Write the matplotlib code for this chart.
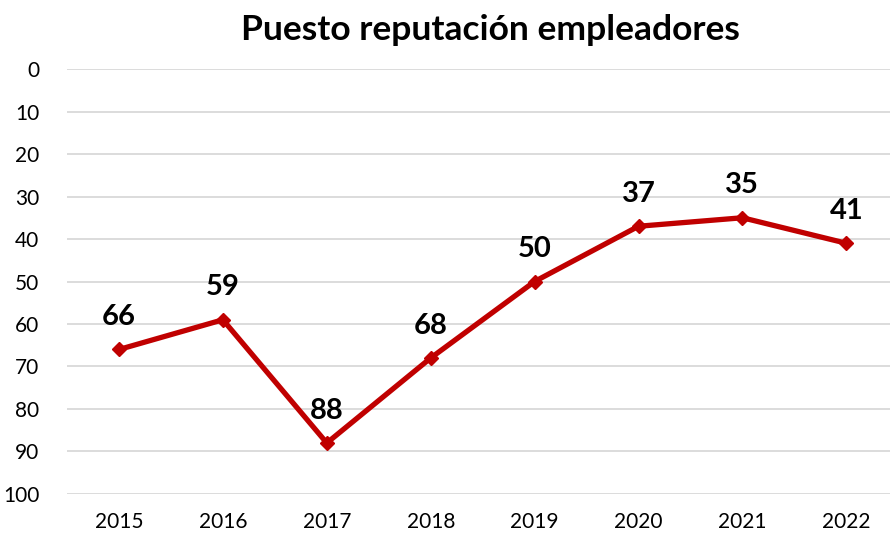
import matplotlib
matplotlib.use("Agg")
import matplotlib.pyplot as plt

years = ["2015", "2016", "2017", "2018", "2019", "2020", "2021", "2022"]
ranks = [66, 59, 88, 68, 50, 37, 35, 41]
yticks = [0, 10, 20, 30, 40, 50, 60, 70, 80, 90, 100]

plt.rcParams['font.family'] = ['Lato', 'DejaVu Sans']

fig = plt.figure(figsize=(8.9, 5.4), dpi=100)
ax = fig.add_axes([0.0753, 0.0852, 0.934, 0.787])

x = list(range(len(years)))
ax.plot(x, ranks, color="#C00000", linewidth=3.8, marker="D", markersize=7, zorder=3)
for xi, v in zip(x, ranks):
    ax.annotate(str(v), (xi, v), xytext=(0, 14), textcoords="offset points",
                ha="center", va="bottom", fontsize=21, fontweight="bold", color="black")

ax.set_ylim(100, 0)
ax.set_xlim(-0.5, len(years) - 0.5)
ax.set_yticks(yticks)
ax.set_xticks(x)
ax.set_xticklabels(years)
ax.tick_params(axis="both", length=0, labelsize=15, colors="black")
ax.tick_params(axis="y", pad=20)
ax.tick_params(axis="x", pad=13)
ax.grid(axis="y", color="#d9d9d9", linewidth=1.3)
ax.set_axisbelow(True)
for s in ax.spines.values():
    s.set_visible(False)

fig.suptitle("Puesto reputación empleadores", fontsize=25.5, fontweight="bold", x=0.551, y=0.974)

fig.savefig("out.png", dpi=100)
